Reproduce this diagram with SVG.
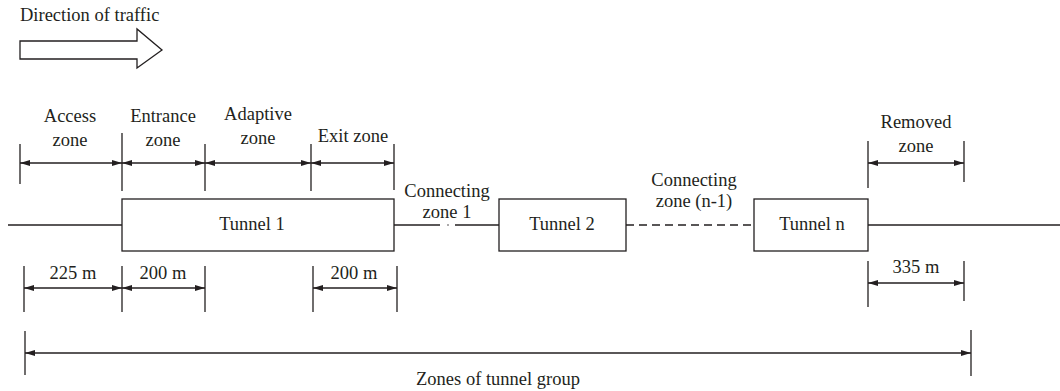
<svg xmlns="http://www.w3.org/2000/svg" width="1060" height="391" viewBox="0 0 1060 391" font-family="'Liberation Serif', 'DejaVu Serif', serif">
<style>
text{font-family:"Liberation Serif","DejaVu Serif",serif;font-size:18.5px;fill:#231f20}
.m{text-anchor:middle}
.ln{stroke:#231f20;stroke-width:1.3;fill:none}
.dim{stroke:#231f20;stroke-width:1.3;fill:none;marker-start:url(#a);marker-end:url(#a)}
.box{stroke:#231f20;stroke-width:1.3;fill:#fff}
</style>
<defs>
<marker id="a" viewBox="0 0 10 6" refX="10" refY="3" markerWidth="10" markerHeight="6" markerUnits="userSpaceOnUse" orient="auto-start-reverse">
<path d="M0,0 L10,3 L0,6 Z" fill="#231f20"/>
</marker>
</defs>
<rect width="1060" height="391" fill="#fff"/>
<g id="traffic">
<text x="20" y="21">Direction of traffic</text>
<path class="ln" d="M20,41 H137 V29 L162,50 L137,68 V59 H20 Z"/>
</g>
<g id="connectors">
<line class="ln" x1="8" y1="225" x2="122" y2="225"/>
<line class="ln" x1="394" y1="225" x2="440" y2="225"/>
<line class="ln" x1="447.5" y1="225" x2="448.5" y2="225"/>
<line class="ln" x1="455" y1="225" x2="499" y2="225"/>
<line class="ln" x1="626" y1="225" x2="754" y2="225" stroke-dasharray="8,5"/>
<line class="ln" x1="868" y1="225" x2="1060" y2="225"/>
</g>
<g id="top-dims">
<line class="ln" x1="20" y1="144" x2="20" y2="184"/>
<line class="ln" x1="122" y1="133" x2="122" y2="191"/>
<line class="ln" x1="205" y1="144" x2="205" y2="191"/>
<line class="ln" x1="311" y1="144" x2="311" y2="191"/>
<line class="ln" x1="394" y1="144" x2="394" y2="190"/>
<line class="dim" x1="20" y1="163" x2="122" y2="163"/>
<line class="dim" x1="122" y1="163" x2="205" y2="163"/>
<line class="dim" x1="205" y1="163" x2="311" y2="163"/>
<line class="dim" x1="311" y1="163" x2="394" y2="163"/>
<text class="m" x="70" y="122">Access</text>
<text class="m" x="70" y="146">zone</text>
<text class="m" x="163" y="122">Entrance</text>
<text class="m" x="163" y="146">zone</text>
<text class="m" x="258" y="120">Adaptive</text>
<text class="m" x="258" y="144">zone</text>
<text class="m" x="353" y="142">Exit zone</text>
</g>
<g id="tunnel1">
<rect class="box" x="122" y="199" width="272" height="52"/>
<text class="m" x="252" y="230">Tunnel 1</text>
</g>
<g id="conn1">
<text class="m" x="447" y="197">Connecting</text>
<text class="m" x="447" y="218">zone 1</text>
</g>
<g id="tunnel2">
<rect class="box" x="499" y="199" width="127" height="52"/>
<text class="m" x="562" y="230">Tunnel 2</text>
</g>
<g id="connn">
<text class="m" x="694" y="186">Connecting</text>
<text class="m" x="694" y="207">zone (n-1)</text>
</g>
<g id="tunneln">
<rect class="box" x="754" y="199" width="114" height="52"/>
<text class="m" x="812" y="230">Tunnel n</text>
</g>
<g id="removed">
<line class="ln" x1="868" y1="141" x2="868" y2="188"/>
<line class="ln" x1="964" y1="141" x2="964" y2="182"/>
<line class="dim" x1="868" y1="163" x2="964" y2="163"/>
<text class="m" x="916" y="128">Removed</text>
<text class="m" x="916" y="152">zone</text>
</g>
<g id="bottom-dims">
<line class="ln" x1="24" y1="266" x2="24" y2="312"/>
<line class="ln" x1="122" y1="266" x2="122" y2="312"/>
<line class="ln" x1="205" y1="266" x2="205" y2="312"/>
<line class="ln" x1="313" y1="266" x2="313" y2="312"/>
<line class="ln" x1="397" y1="266" x2="397" y2="312"/>
<line class="dim" x1="24" y1="288" x2="122" y2="288"/>
<line class="dim" x1="122" y1="288" x2="205" y2="288"/>
<line class="dim" x1="313" y1="288" x2="397" y2="288"/>
<text class="m" x="73" y="279">225 m</text>
<text class="m" x="163" y="279">200 m</text>
<text class="m" x="354" y="279">200 m</text>
<line class="ln" x1="868" y1="261" x2="868" y2="307"/>
<line class="ln" x1="964" y1="261" x2="964" y2="301"/>
<line class="dim" x1="868" y1="283" x2="964" y2="283"/>
<text class="m" x="916" y="273">335 m</text>
</g>
<g id="group">
<line class="ln" x1="25" y1="331" x2="25" y2="375"/>
<line class="ln" x1="971" y1="330" x2="971" y2="376"/>
<line class="dim" x1="25" y1="353" x2="971" y2="353"/>
<text class="m" x="498" y="385">Zones of tunnel group</text>
</g>
</svg>
